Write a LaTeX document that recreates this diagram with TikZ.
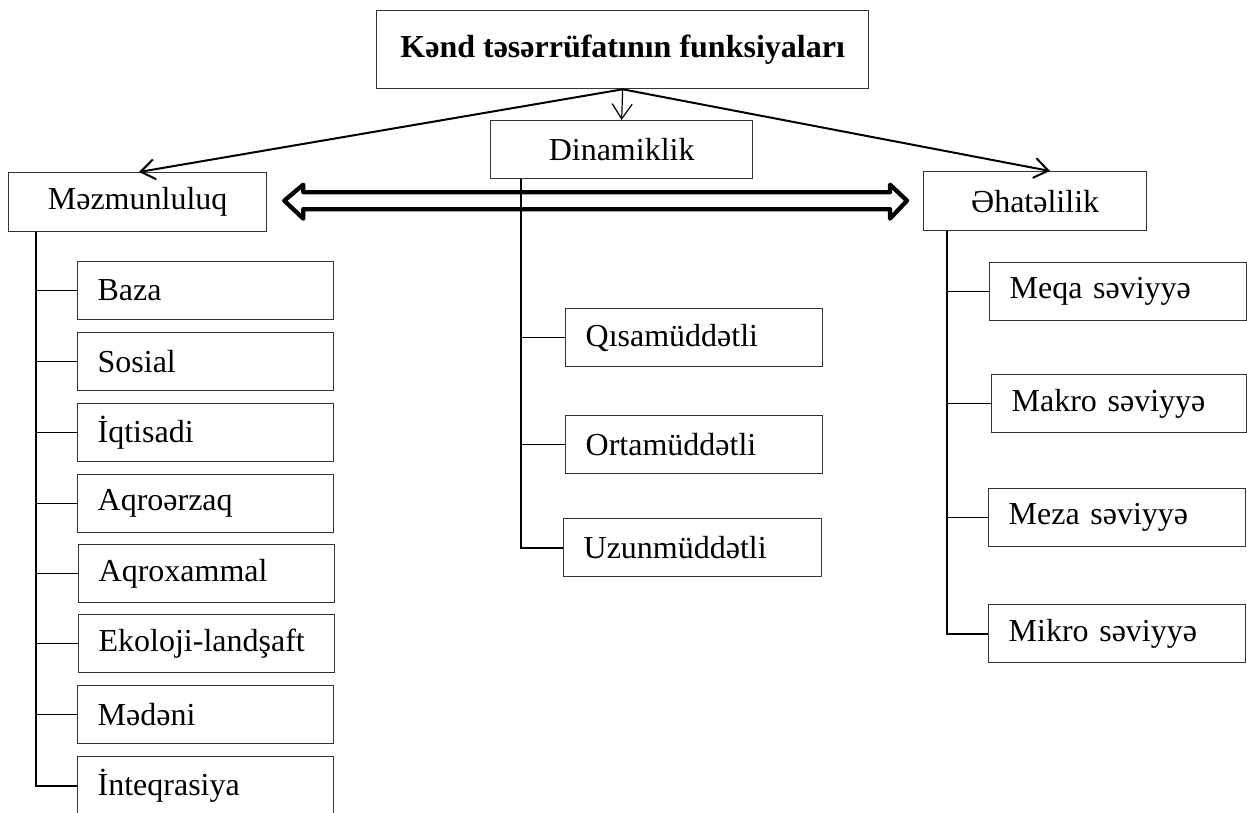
\documentclass[tikz,border=0pt]{standalone}
\usepackage{fontspec}
\setmainfont{Liberation Serif}
\usetikzlibrary{arrows.meta,calc}
\begin{document}
\begin{tikzpicture}[x=1pt,y=-1pt,
  bx/.style={draw=black!80,line width=1.3pt,anchor=north west,inner sep=0pt,
    font=\fontsize{32}{38}\selectfont,minimum height=58pt},
  lbox/.style={bx,minimum width=#1pt,text width=#1pt-40pt,align=left,inner xsep=20pt},
  cbox/.style={bx,minimum width=#1pt,align=center},
  conn/.style={line width=1.6pt},
  trunk/.style={line width=2pt},
  arr/.style={line width=2pt,-{Straight Barb[length=14pt,width=20pt,line width=2pt]}},
  dbl/.style={line width=4.3pt,line join=round}]
\useasboundingbox (0,0) rectangle (1247,812);
% top
\node[cbox=492,minimum height=78pt,font=\fontsize{32}{38}\selectfont\bfseries] (top) at (376,10) {Kənd təsərrüfatının funksiyaları};
\node[cbox=262] (din) at (490,120) {Dinamiklik};
\node[cbox=258,minimum height=59pt] (mz) at (8,172) {Məzmunluluq};
\node[cbox=223,minimum height=59pt] (eh) at (923,171) {Əhatəlilik};
% left list
\node[lbox=256] (l1) at (77,261) {Baza};
\node[lbox=256] (l2) at (77,332) {Sosial};
\node[lbox=256] (l3) at (77,403) {İqtisadi};
\node[lbox=256] (l4) at (77,474) {Aqroərzaq};
\node[lbox=256] (l5) at (78,544) {Aqroxammal};
\node[lbox=256] (l6) at (78,614) {Ekoloji-landşaft};
\node[lbox=256] (l7) at (77,685) {Mədəni};
\node[lbox=256] (l8) at (77,756) {İnteqrasiya};
% middle list
\node[lbox=257] (m1) at (565,308) {Qısamüddətli};
\node[lbox=257] (m2) at (565,415) {Ortamüddətli};
\node[lbox=258] (m3) at (563,518) {Uzunmüddətli};
% right list
\node[lbox=257] (r1) at (989,262) {Meqa səviyyə};
\node[lbox=255] (r2) at (991,374) {Makro səviyyə};
\node[lbox=257] (r3) at (988,488) {Meza səviyyə};
\node[lbox=257] (r4) at (988,604) {Mikro səviyyə};
% arrows from top
\coordinate (tl) at ($(mz.north west)+(131,0)$);
\coordinate (tr) at ($(eh.north west)+(127,0)$);
\draw[arr] (top.south) -- (tl);
\draw[arr] (top.south) -- (tr);
\draw[line width=1.2pt,-{Straight Barb[length=15pt,width=20pt,line width=1.2pt]}] (top.south) -- (din.north);
% double arrow
\coordinate (da) at ($(mz.east)+(17,-1.5)$);
\coordinate (db) at ($(da -| eh.west)+(-16,0)$);
\draw[dbl] ($(da)+(19,-8.5)$) -- ($(db)+(-17,-8.5)$) -- ($(db)+(-17,-16)$) -- (db)
  -- ($(db)+(-17,18)$) -- ($(db)+(-17,8.5)$) -- ($(da)+(19,8.5)$) -- ($(da)+(19,18)$)
  -- (da) -- ($(da)+(19,-16)$) -- cycle;
% left trunk
\coordinate (lt) at ($(mz.south west)+(28,0)$);
\draw[trunk] (lt) |- (l8.west);
\foreach \n in {l1,l2,l3,l4,l5,l6,l7} \draw[conn] (lt |- \n.west) -- (\n.west);
% middle trunk
\coordinate (mt) at ($(din.south west)+(31,0)$);
\draw[trunk] (mt) |- (m3.west);
\foreach \n in {m1,m2} \draw[conn] (mt |- \n.west) -- (\n.west);
% right trunk
\coordinate (rt) at ($(eh.south west)+(24,0)$);
\draw[trunk] (rt) |- (r4.west);
\foreach \n in {r1,r2,r3} \draw[conn] (rt |- \n.west) -- (\n.west);
\end{tikzpicture}
\end{document}
